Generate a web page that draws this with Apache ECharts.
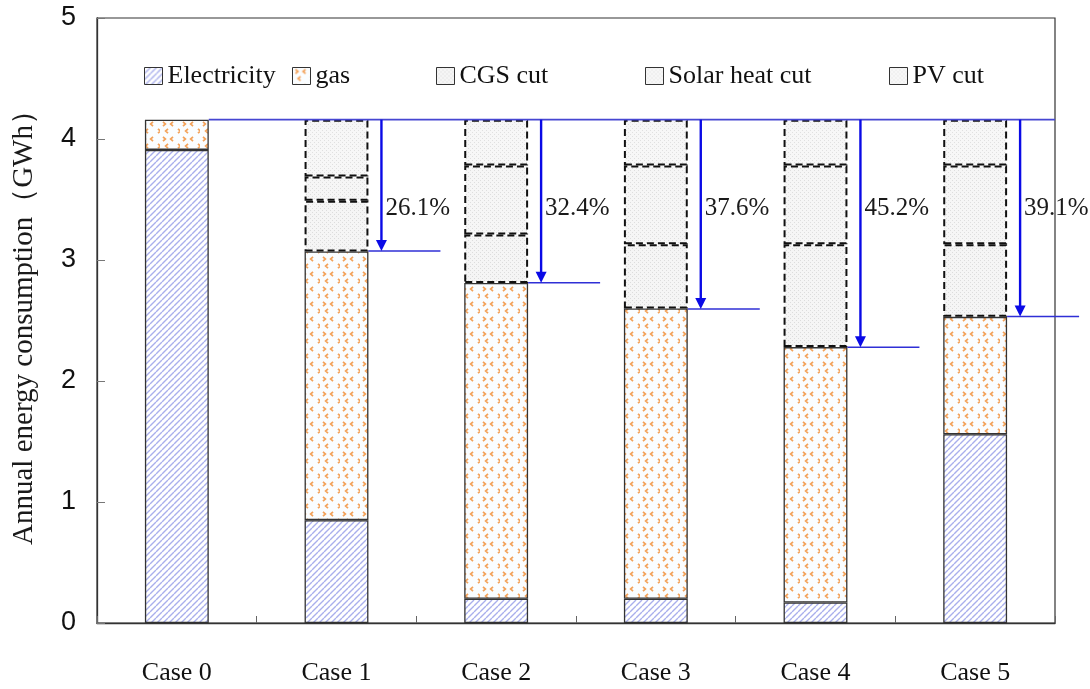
<!DOCTYPE html>
<html>
<head>
<meta charset="utf-8">
<title>Annual energy consumption by case</title>
<script src="https://cdn.jsdelivr.net/npm/echarts@6/dist/echarts.min.js"></script>
<style>
  html, body { margin: 0; padding: 0; background: #fff; }
  #chart { width: 1090px; height: 689px; }
</style>
</head>
<body>
<div id="chart"></div>
<script>
// Annual energy consumption (GWh) per case, stacked by source / saving
const categories = ['Case 0', 'Case 1', 'Case 2', 'Case 3', 'Case 4', 'Case 5'];
const electricity = [3.91, 0.85, 0.20, 0.20, 0.17, 1.56];
const gas = [0.25, 2.22, 2.61, 2.40, 2.11, 0.97];
const cgsCut = [null, 0.42, 0.40, 0.53, 0.85, 0.60];
const solarHeatCut = [null, 0.20, 0.57, 0.65, 0.65, 0.65];
const pvCut = [null, 0.47, 0.38, 0.38, 0.38, 0.38];
// reduction relative to Case 0 (%)
const reductionPct = [null, 26.1, 32.4, 37.6, 45.2, 39.1];
const seriesNames = ['Electricity', 'gas', 'CGS cut', 'Solar heat cut', 'PV cut'];

const baseTotal = electricity[0] + gas[0];

// ---- fill patterns ----
function makeCanvas(w, h) {
  const c = document.createElement('canvas');
  c.width = w; c.height = h;
  return c;
}
function hatchPattern() {
  const s = 6;
  const c = makeCanvas(s, s);
  const g = c.getContext('2d');
  g.fillStyle = '#ffffff';
  g.fillRect(0, 0, s, s);
  g.strokeStyle = '#a9afec';
  g.lineWidth = 1.4;
  g.beginPath();
  for (let k = -s; k <= 2 * s; k += s) {
    g.moveTo(k, s);
    g.lineTo(k + s, 0);
  }
  g.stroke();
  return c;
}
function chevronPattern() {
  const c = makeCanvas(20, 15);
  const g = c.getContext('2d');
  g.fillStyle = '#fafdff';
  g.fillRect(0, 0, 20, 15);
  g.strokeStyle = '#f3a25a';
  g.lineWidth = 1.7;
  const marks = [[3, 4, 1], [13, 4, -1], [8, 11, -1], [18, 11, 1]];
  g.beginPath();
  marks.forEach(([x, y, d]) => {
    g.moveTo(x, y - 2.2);
    g.lineTo(x + 2.4 * d, y);
    g.lineTo(x, y + 2.2);
  });
  g.stroke();
  return c;
}
function stipplePattern(bg, dot) {
  const c = makeCanvas(4, 4);
  const g = c.getContext('2d');
  g.fillStyle = bg;
  g.fillRect(0, 0, 4, 4);
  g.fillStyle = dot;
  g.fillRect(0, 0, 1, 1);
  g.fillRect(2, 2, 1, 1);
  return c;
}

const fills = {
  'Electricity': { image: hatchPattern(), repeat: 'repeat' },
  'gas': { image: chevronPattern(), repeat: 'repeat' },
  'CGS cut': { image: stipplePattern('#f5f5f5', '#dcdcdc'), repeat: 'repeat' },
  'Solar heat cut': { image: stipplePattern('#f6f6f6', '#dedede'), repeat: 'repeat' },
  'PV cut': { image: stipplePattern('#f7f7f7', '#e0e0e0'), repeat: 'repeat' }
};

const serif = '"Liberation Serif", "Times New Roman", serif';
const sans = '"Liberation Sans", Arial, sans-serif';

function solidBar(name, values) {
  return {
    name, type: 'bar', stack: 'total', barWidth: '40%',
    data: values,
    itemStyle: { color: fills[name], borderColor: '#333', borderWidth: 1.3 },
    emphasis: { disabled: true }
  };
}
function cutBar(name, values) {
  return {
    name, type: 'bar', stack: 'total', barWidth: '40%',
    data: values.map(v => (v == null ? '-' : v)),
    itemStyle: {
      color: fills[name], borderColor: '#111', borderWidth: 2,
      borderType: [7, 4]
    },
    emphasis: { disabled: true }
  };
}

// reduction arrows, levels and percentages
function renderReduction(params, api) {
  const i = api.value(0);
  const halfBar = api.size([1, 0])[0] * 0.2;
  const top = api.coord([i, baseTotal]);
  const cs = params.coordSys;
  const blue = '#2f2fd6';
  if (i === 0) {
    return {
      type: 'line',
      shape: { x1: top[0] + halfBar, y1: top[1], x2: cs.x + cs.width, y2: top[1] },
      style: { stroke: '#4646d2', lineWidth: 1.6 }
    };
  }
  const pct = reductionPct[i];
  const level = api.coord([i, baseTotal * (1 - pct / 100)]);
  const edge = level[0] + halfBar;
  const ax = edge + 13;
  return {
    type: 'group',
    children: [
      {
        type: 'line',
        shape: { x1: edge, y1: level[1], x2: edge + 72, y2: level[1] },
        style: { stroke: blue, lineWidth: 1.5 }
      },
      {
        type: 'line',
        shape: { x1: ax, y1: top[1], x2: ax, y2: level[1] - 9 },
        style: { stroke: '#0a0ae6', lineWidth: 2.4 }
      },
      {
        type: 'polygon',
        shape: { points: [[ax - 5.5, level[1] - 11], [ax + 5.5, level[1] - 11], [ax, level[1]]] },
        style: { fill: '#0a0ae6' }
      },
      {
        type: 'text',
        style: {
          text: pct.toFixed(1) + '%',
          x: ax + 4, y: cs.y + 190,
          fill: '#1a1a1a', font: '25px ' + serif,
          verticalAlign: 'middle', align: 'left'
        }
      }
    ]
  };
}

const legendLeft = [139, 287, 431, 640, 884];

const chart = echarts.init(document.getElementById('chart'), null, { renderer: 'canvas' });
chart.setOption({
  animation: false,
  backgroundColor: '#ffffff',
  grid: {
    left: 97, right: 35, top: 18, bottom: 66,
    show: true, borderColor: '#333', borderWidth: 1.2, backgroundColor: 'transparent'
  },
  legend: seriesNames.map((n, i) => ({
    data: [{ name: n, icon: 'rect', itemStyle: { borderType: 'solid', borderWidth: 1, borderColor: '#333' } }],
    left: legendLeft[i], top: 58,
    itemWidth: 18, itemHeight: 17,
    selectedMode: false,
    textStyle: { fontFamily: serif, fontSize: 26, color: '#111' }
  })),
  xAxis: {
    type: 'category',
    data: categories,
    boundaryGap: true,
    axisLine: { lineStyle: { color: '#333', width: 1.3 } },
    axisTick: { show: true, inside: true, length: 7, lineStyle: { color: '#666' } },
    axisLabel: { fontFamily: serif, fontSize: 26, color: '#111', margin: 37 },
    splitLine: { show: false }
  },
  yAxis: {
    type: 'value',
    min: 0, max: 5, interval: 1,
    name: 'Annual energy consumption\uFF08GWh\uFF09',
    nameLocation: 'middle',
    nameRotate: 90,
    nameGap: 58,
    nameTextStyle: { fontFamily: serif, fontSize: 29, color: '#1a1a1a' },
    axisLine: { show: true, lineStyle: { color: '#333', width: 1.3 } },
    axisTick: { show: true, inside: true, length: 8, lineStyle: { color: '#777' } },
    axisLabel: { fontFamily: sans, fontSize: 27, color: '#111', margin: 21 },
    splitLine: { show: false }
  },
  series: [
    solidBar('Electricity', electricity),
    solidBar('gas', gas),
    cutBar('CGS cut', cgsCut),
    cutBar('Solar heat cut', solarHeatCut),
    cutBar('PV cut', pvCut),
    {
      type: 'custom',
      name: 'reduction',
      renderItem: renderReduction,
      data: categories.map((c, i) => [i, 0]),
      z: 5,
      silent: true,
      clip: false
    }
  ]
});
</script>
</body>
</html>
